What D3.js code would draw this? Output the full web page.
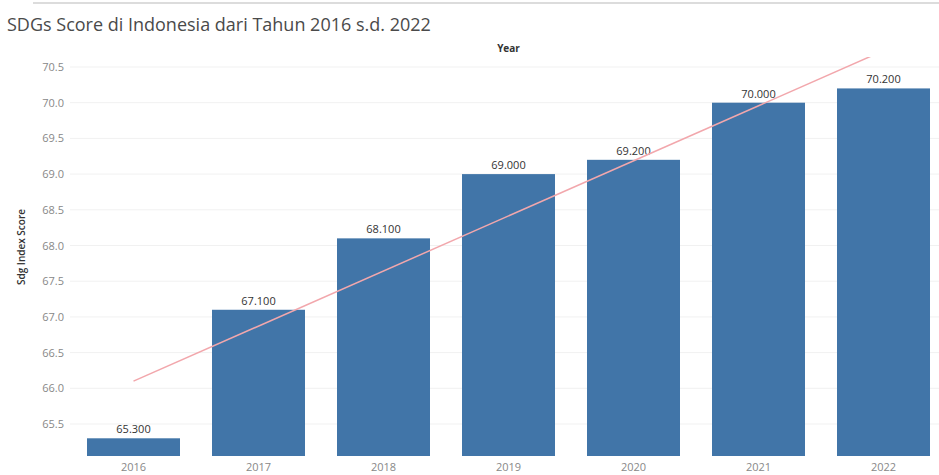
<!DOCTYPE html>
<html>
<head>
<meta charset="utf-8">
<script src="https://cdn.jsdelivr.net/npm/d3@7"></script>
<style>
  body { margin: 0; background: #fff; }
  svg { display: block; font-family: "Open Sans", "Noto Sans", sans-serif; }
</style>
</head>
<body>
<div id="chart"></div>
<script>
// SDGs score per year
const years = ['2016', '2017', '2018', '2019', '2020', '2021', '2022'];
const scores = [65.3, 67.1, 68.1, 69.0, 69.2, 70.0, 70.2];
const yTicks = [65.5, 66.0, 66.5, 67.0, 67.5, 68.0, 68.5, 69.0, 69.5, 70.0, 70.5];

const width = 939, height = 475;
const svg = d3.select('#chart').append('svg')
    .attr('width', width)
    .attr('height', height);

// top rule
svg.append('line')
    .attr('x1', 33).attr('x2', width)
    .attr('y1', 3).attr('y2', 3)
    .attr('stroke', '#dcdcdc')
    .attr('stroke-width', 2);

svg.append('text')
    .attr('x', 7).attr('y', 31)
    .text('SDGs Score di Indonesia dari Tahun 2016 s.d. 2022')
    .style('font-size', '18px')
    .style('fill', '#4a4a4a');

const x = d3.scaleBand()
    .domain(years)
    .range([71, 946])
    .paddingInner(0.256)
    .paddingOuter(0.128);

const y = d3.scaleLinear()
    .domain([65.052, 70.64])
    .range([456, 57]);

// gridlines
svg.append('g')
    .selectAll('line')
    .data(yTicks)
    .enter().append('line')
    .attr('x1', 70).attr('x2', width)
    .attr('y1', d => y(d)).attr('y2', d => y(d))
    .attr('stroke', '#f1f1f1')
    .attr('stroke-width', 1);

// y axis
const yAxis = svg.append('g')
    .attr('transform', 'translate(64,0)')
    .call(d3.axisLeft(y).tickValues(yTicks).tickFormat(d3.format('.1f')).tickSize(0).tickPadding(0));
yAxis.select('.domain').remove();
yAxis.selectAll('text')
    .style('font-size', '11px')
    .style('fill', '#888')
    .style('font-family', '"Open Sans", sans-serif');

svg.append('text')
    .attr('transform', 'translate(25,247) rotate(-90)')
    .attr('text-anchor', 'middle')
    .text('Sdg Index Score')
    .style('font-size', '10px')
    .style('font-weight', '600')
    .style('fill', '#333');

// x axis
const xAxis = svg.append('g')
    .attr('transform', 'translate(0,456)')
    .call(d3.axisBottom(x).tickSize(0).tickPadding(7));
xAxis.select('.domain').remove();
xAxis.selectAll('text')
    .style('font-size', '11px')
    .style('fill', '#888')
    .style('font-family', '"Open Sans", sans-serif');

svg.append('text')
    .attr('x', (71 + 946) / 2).attr('y', 52)
    .attr('text-anchor', 'middle')
    .text('Year')
    .style('font-size', '10px')
    .style('font-weight', 'bold')
    .style('fill', '#333');

// bars
svg.append('g')
    .selectAll('rect')
    .data(years)
    .enter().append('rect')
    .attr('x', d => x(d))
    .attr('width', x.bandwidth())
    .attr('y', (d, i) => y(scores[i]))
    .attr('height', (d, i) => y.range()[0] - y(scores[i]))
    .attr('fill', '#4175a8');

// value labels
svg.append('g')
    .selectAll('text')
    .data(years)
    .enter().append('text')
    .attr('x', d => x(d) + x.bandwidth() / 2)
    .attr('y', (d, i) => y(scores[i]) - 5)
    .attr('text-anchor', 'middle')
    .text((d, i) => d3.format('.3f')(scores[i]))
    .style('font-size', '11px')
    .style('fill', '#333');

// linear trend line, clipped to the plot
const n = scores.length;
const mx = d3.mean(d3.range(n));
const my = d3.mean(scores);
const slope = d3.sum(scores, (v, i) => (i - mx) * (v - my)) / d3.sum(d3.range(n), i => (i - mx) * (i - mx));
const icpt = my - slope * mx;

svg.append('defs').append('clipPath')
    .attr('id', 'plot-clip')
    .append('rect')
    .attr('x', 64).attr('y', 57)
    .attr('width', width - 64).attr('height', 456 - 57);

const cx = d => x(d) + x.bandwidth() / 2;
svg.append('line')
    .attr('clip-path', 'url(#plot-clip)')
    .attr('x1', cx(years[0]))
    .attr('y1', y(icpt))
    .attr('x2', cx(years[n - 1]))
    .attr('y2', y(icpt + slope * (n - 1)))
    .attr('stroke', '#f2a7ac')
    .attr('stroke-width', 1.5);
</script>
</body>
</html>
